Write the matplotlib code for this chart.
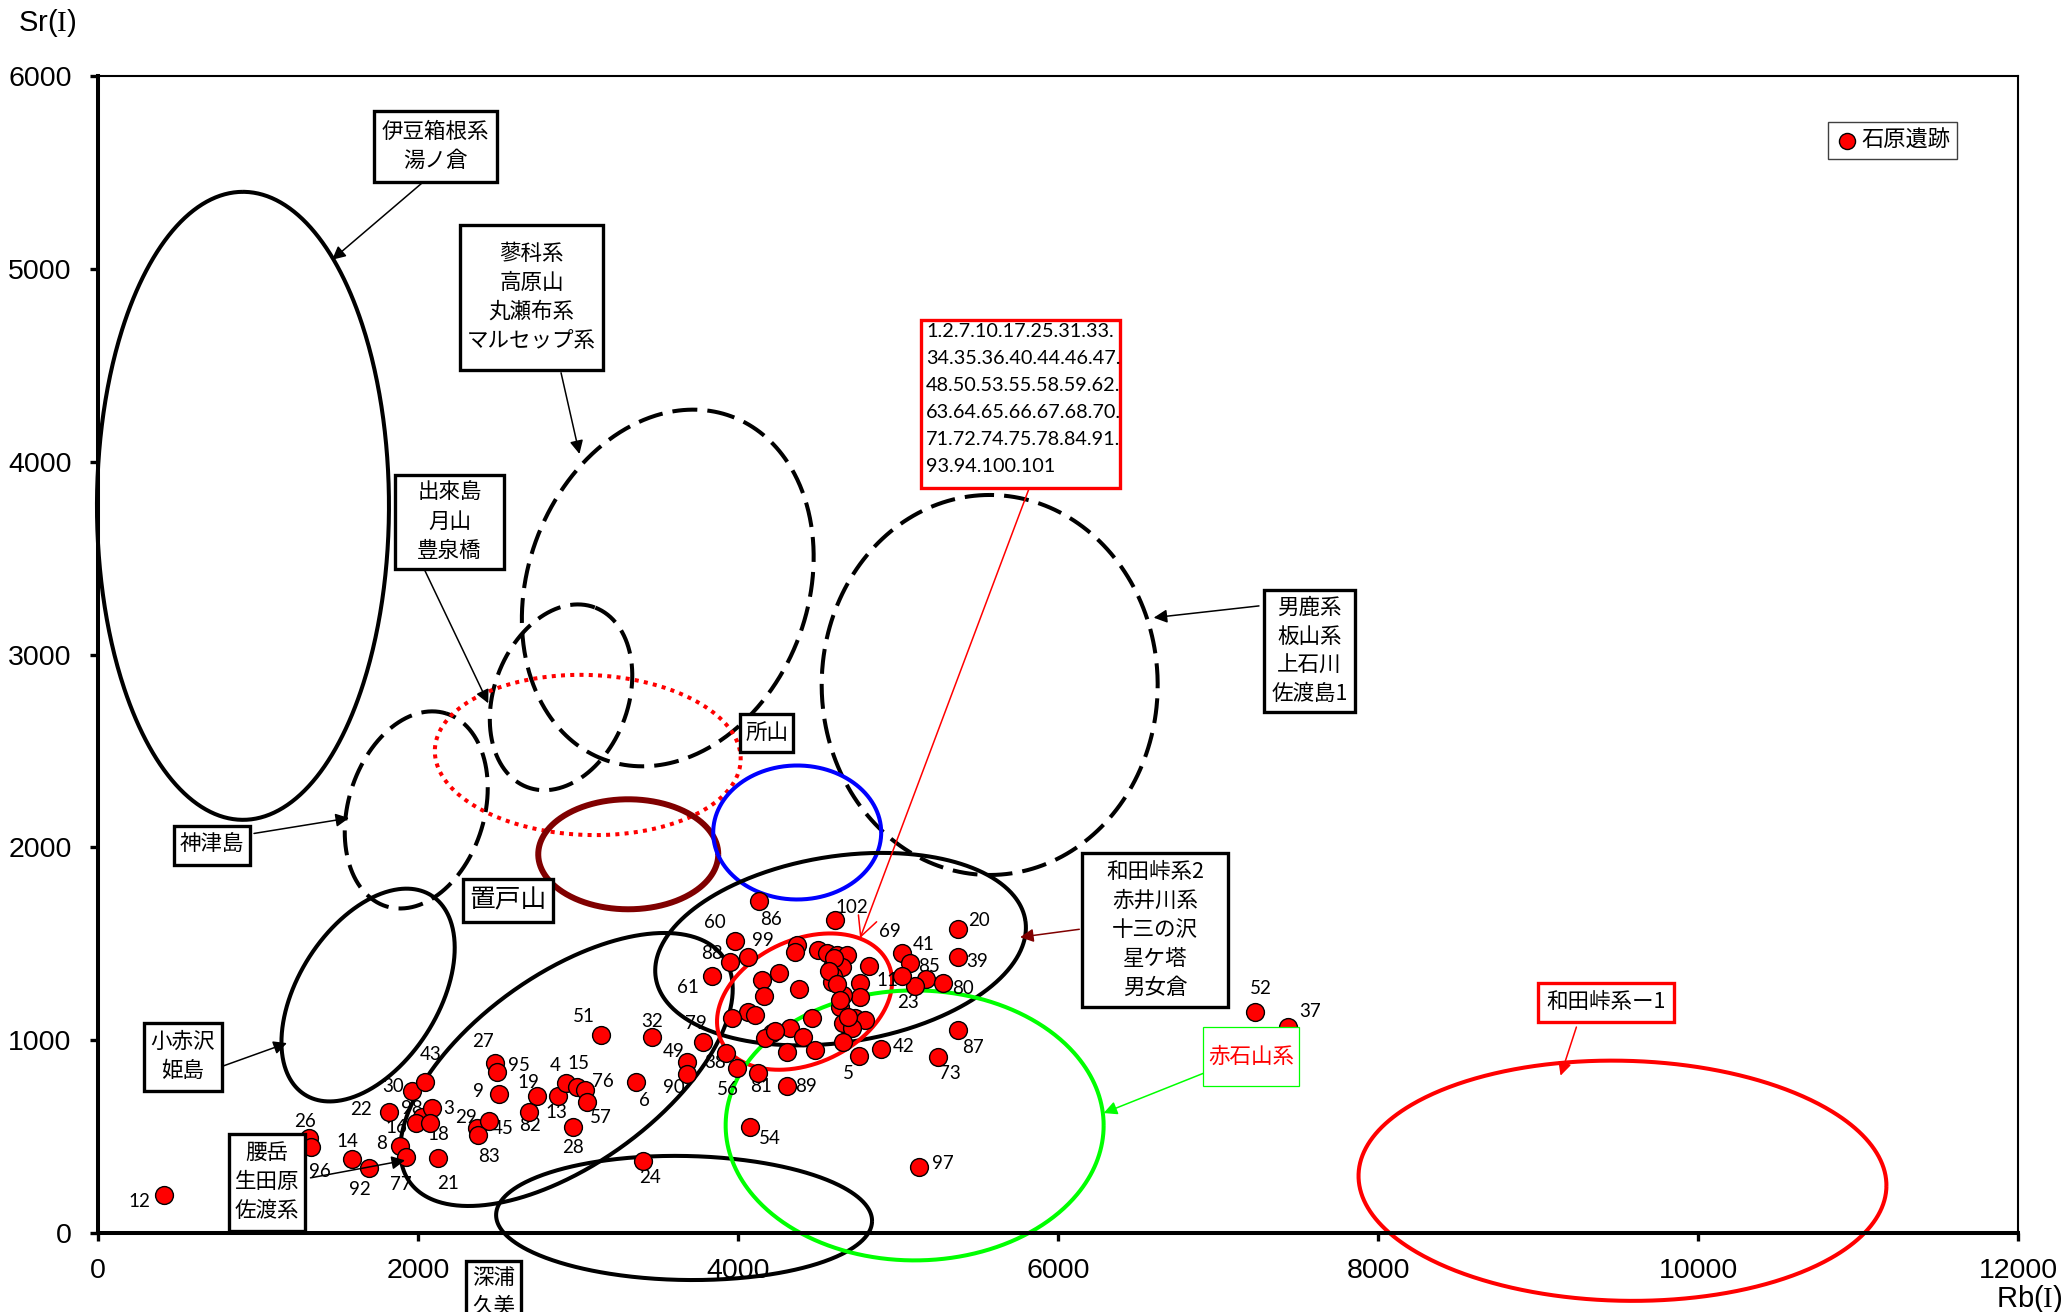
import numpy as np
import matplotlib
matplotlib.use('Agg')
import matplotlib.pyplot as plt
from matplotlib.patches import Rectangle

plt.rcParams['font.family'] = ['Liberation Sans', 'Noto Sans CJK JP']
plt.rcParams['mathtext.fontset'] = 'custom'
plt.rcParams['mathtext.rm'] = 'Liberation Serif'

# ---- values (Rb(I) vs Sr(I)) ----
sample_no = [12, 26, 96, 14, 92, 8, 77, 22, 30, 43,
             98, 16, 3, 18, 21, 27, 95, 9, 29, 45,
             83, 19, 82, 13, 4, 15, 76, 57, 28, 51,
             6, 32, 24, 49, 90, 79, 38, 56, 81, 89,
             54, 61, 88, 60, 99, 86, 102, 69, 41, 85,
             11, 23, 80, 20, 39, 87, 73, 42, 5, 97,
             52, 37]
rb_labeled = [412, 1316, 1334, 1588, 1695, 1887, 1925, 1821, 1965, 2044,
              2023, 1987, 2090, 2075, 2127, 2481, 2492, 2506, 2367, 2444,
              2373, 2742, 2694, 2873, 2925, 2992, 3044, 3054, 2971, 3144,
              3362, 3460, 3408, 3679, 3679, 3783, 3923, 3992, 4127, 4308,
              4075, 3840, 3950, 3981, 4065, 4133, 4606, 4819, 5023, 5173,
              4763, 5106, 5283, 5373, 5373, 5377, 5252, 4892, 4756, 5133,
              7231, 7436]
sr_labeled = [199, 495, 446, 382, 338, 453, 392, 629, 738, 785,
              600, 569, 647, 569, 387, 880, 833, 721, 543, 583,
              508, 711, 626, 711, 776, 759, 742, 678, 548, 1027,
              781, 1015, 373, 889, 825, 992, 935, 854, 832, 762,
              552, 1335, 1407, 1515, 1433, 1724, 1623, 1387, 1454, 1316,
              1295, 1281, 1295, 1575, 1430, 1053, 915, 953, 920, 343,
              1148, 1067]

# samples inside the dense cluster that only appear in the listing box
rb_unlabeled = [4367, 4356, 4502, 4554, 4617, 4679, 4585, 4648, 4592, 4585,
                4762, 4658, 4637, 4258, 4148, 4162, 4383, 4065, 4106, 3960,
                4460, 4731, 4794, 4658, 4710, 4325, 4210, 4169, 4408, 4304,
                4481, 4658, 5075, 5023, 4600, 4570, 4620, 4640, 4690, 4230]
sr_unlabeled = [1494, 1459, 1468, 1454, 1442, 1442, 1381, 1378, 1333, 1304,
                1226, 1234, 1174, 1347, 1312, 1229, 1264, 1148, 1131, 1113,
                1113, 1113, 1105, 1087, 1061, 1061, 1035, 1010, 1018, 940,
                949, 992, 1402, 1333, 1425, 1360, 1290, 1210, 1120, 1048]

listed_samples = ('1.2.7.10.17.25.31.33.\n34.35.36.40.44.46.47.\n48.50.53.55.58.59.62.\n'
                  '63.64.65.66.67.68.70.\n71.72.74.75.78.84.91.\n93.94.100.101')

x_ticks = [0, 2000, 4000, 6000, 8000, 10000, 12000]
y_ticks = [0, 1000, 2000, 3000, 4000, 5000, 6000]

# label offsets (pixels) for the sample numbers
label_offset = {
    12: (-25, -7), 26: (-4, 16), 96: (8, -24), 14: (-5, 18), 92: (-9, -22),
    8: (-18, 2), 77: (-5, -27), 22: (-28, 2), 30: (-19, 4), 43: (6, 27),
    98: (-10, 9), 16: (-20, -4), 3: (16, 0), 18: (8, -11), 21: (10, -25),
    27: (-12, 22), 95: (22, 7), 9: (-21, 2), 29: (-11, 11), 45: (14, -8),
    83: (11, -21), 19: (-8, 13), 82: (1, -13), 13: (-1, -17), 4: (-11, 18),
    15: (2, 23), 76: (18, 8), 57: (14, -15), 28: (0, -20), 51: (-17, 18),
    6: (9, -18), 32: (0, 16), 24: (7, -16), 49: (-13, 10), 90: (-13, -14),
    79: (-7, 18), 38: (-11, -10), 56: (-9, -21), 81: (3, -14), 89: (19, 0),
    54: (20, -12), 61: (-24, -12), 88: (-18, 8), 60: (-20, 18), 99: (14, 16),
    86: (12, -19), 102: (17, 13), 69: (21, 34), 41: (22, 8), 85: (3, 13),
    11: (27, 3), 23: (-7, -17), 80: (20, -5), 20: (21, 9), 39: (19, -4),
    87: (15, -18), 73: (12, -17), 42: (23, 3), 5: (-11, -18), 97: (24, 3),
    52: (6, 23), 37: (22, 16),
}

# source-area ellipses: centre (data), semi axes (pixels), tilt (deg), colour, width, style
ellipses = [
    (906, 3771, 314, 146, 90, 'black', 2.9, '-'),        # 伊豆箱根系
    (3561, 3345, 183, 140, 69.6, 'black', 2.9, 'dash'),  # 蓼科系
    (2894, 2778, 96, 67, 69.4, 'black', 2.9, 'dash'),    # 出來島
    (5573, 2842, 190, 168, 90, 'black', 2.9, 'dash'),    # 男鹿系
    (1989, 2194, 101, 68, 72.8, 'black', 2.9, 'dash'),   # 神津島
    (3061, 2479, 153, 80, -2, '#FF0000', 2.9, 'dot'),    # 高原山 etc.
    (3314, 1964, 90, 55, 0, '#800000', 4.3, '-'),        # 置戸山
    (4370, 2077, 84, 67, 0, '#0000FF', 2.9, '-'),        # 所山
    (1688, 1234, 118, 70, 57.5, 'black', 2.9, '-'),      # 小赤沢
    (2928, 848, 193, 95, 35.7, 'black', 2.9, '-'),       # 腰岳
    (3663, 78, 188, 62, -1, 'black', 2.9, '-'),          # 深浦
    (4641, 1472, 187, 93, 8.8, 'black', 2.9, '-'),       # 和田峠系2
    (4416, 1200, 92, 62, 24.6, '#FF0000', 2.9, '-'),     # listed samples
    (5104, 558, 189, 135, 0, '#00FF00', 2.9, '-'),       # 赤石山系
    (9528, 271, 264, 120, -1.3, '#FF0000', 2.9, '-'),    # 和田峠系-1
]

# label boxes: text, x0, y0, x1, y1 (data), font size, text colour, edge colour, edge width
boxes = [
    ('伊豆箱根系\n湯ノ倉', 1725, 5451, 2494, 5819, 15.5, 'black', 'black', 2.4),
    ('蓼科系\n高原山\n丸瀬布系\nマルセップ系', 2263, 4476, 3156, 5228, 15.5, 'black', 'black', 2.4),
    ('出來島\n月山\n豊泉橋', 1856, 3444, 2538, 3932, 15.5, 'black', 'black', 2.4),
    ('神津島', 475, 1909, 950, 2111, 15.5, 'black', 'black', 2.4),
    ('所山', 4013, 2495, 4344, 2692, 15.5, 'black', 'black', 2.4),
    ('置戸山', 2279, 1615, 2842, 1836, 18.5, 'black', 'black', 2.4),
    ('小赤沢\n姫島', 285, 739, 775, 1090, 15.5, 'black', 'black', 2.4),
    ('腰岳\n生田原\n佐渡系', 821, 11, 1294, 516, 15.5, 'black', 'black', 2.4),
    ('男鹿系\n板山系\n上石川\n佐渡島1', 7288, 2700, 7856, 3335, 15.5, 'black', 'black', 2.4),
    ('和田峠系2\n赤井川系\n十三の沢\n星ケ塔\n男女倉', 6148, 1174, 7064, 1969, 15.5, 'black', 'black', 2.4),
    ('和田峠系ー1', 8999, 1094, 9849, 1298, 15.5, 'black', '#FF0000', 2.4),
    ('赤石山系', 6904, 760, 7508, 1067, 15.5, '#FF0000', '#00FF00', 0.9),
]

# arrows: tail, head, colour
arrows = [
    ((2063, 5472), (1463, 5047), 'black'),
    ((2894, 4461), (3009, 4040), 'black'),
    ((2038, 3444), (2439, 2747), 'black'),
    ((975, 2072), (1569, 2152), 'black'),
    ((775, 864), (1181, 985), 'black'),
    ((1328, 286), (1919, 377), 'black'),
    ((7256, 3252), (6598, 3191), 'black'),
    ((6133, 1575), (5763, 1534), '#800000'),
    ((6908, 828), (6285, 622), '#00FF00'),
    ((9240, 1068), (9141, 816), '#FF0000'),
]

fig = plt.figure(figsize=(20.65, 13.12), dpi=100)
fig.patch.set_facecolor('white')
ax = fig.add_axes([0.04746, 0.06021, 0.92978, 0.88186])
ax.set_xlim(0, 12000)
ax.set_ylim(0, 6000)

# pixels per data unit, used to draw ellipses that are round in pixel space
fig_w, fig_h = fig.get_size_inches() * fig.dpi
px_x = 0.92978 * fig_w / 12000
px_y = 0.88186 * fig_h / 6000


def ellipse_xy(cx, cy, a, b, ang):
    t = np.linspace(0, 2 * np.pi, 600)
    th = np.deg2rad(ang)
    dx = a * np.cos(th) * np.cos(t) - b * np.sin(th) * np.sin(t)
    dy = a * np.sin(th) * np.cos(t) + b * np.cos(th) * np.sin(t)
    return cx + dx / px_x, cy + dy / px_y


for cx, cy, a, b, ang, col, lw, style in ellipses:
    xs, ys = ellipse_xy(cx, cy, a, b, ang)
    if style == 'dash':
        ls = (0, (6.2, 2.5))
    elif style == 'dot':
        ls = (0, (1.0, 1.3))
    else:
        ls = '-'
    ax.plot(xs, ys, color=col, lw=lw, linestyle=ls, solid_capstyle='butt',
            dash_capstyle='butt', clip_on=False, zorder=2)

for tail, head, col in arrows:
    ax.annotate('', xy=head, xytext=tail, annotation_clip=False, zorder=4,
                arrowprops=dict(arrowstyle='-|>', color=col, lw=1.1,
                                mutation_scale=20, shrinkA=0, shrinkB=0))
# open arrow from the listing box
ax.annotate('', xy=(4763, 1529), xytext=(5816, 3854), annotation_clip=False, zorder=4,
            arrowprops=dict(arrowstyle='->,head_length=0.7,head_width=0.35', color='#FF0000',
                            lw=1.1, mutation_scale=20, shrinkA=0, shrinkB=0))

for text, x0, y0, x1, y1, fs, tc, ec, lw in boxes:
    ax.add_patch(Rectangle((x0, y0), x1 - x0, y1 - y0, facecolor='white', edgecolor=ec,
                           lw=lw, clip_on=False, zorder=5))
    ax.text((x0 + x1) / 2, (y0 + y1) / 2, text, ha='center', va='center', fontsize=fs,
            color=tc, linespacing=1.4, family=['Noto Sans CJK JP'], zorder=6, clip_on=False)

# 深浦 box runs off the bottom of the picture, as in the original
ax.add_patch(Rectangle((2300, -555), 346, 410, facecolor='white', edgecolor='black',
                       lw=2.4, clip_on=False, zorder=5))
ax.text(2473, -176, '深浦\n久美', ha='center', va='top', fontsize=15.5, linespacing=1.4,
        family=['Noto Sans CJK JP'], zorder=6, clip_on=False)

# listing box
ax.add_patch(Rectangle((5142, 3863), 1246, 872, facecolor='white', edgecolor='#FF0000',
                       lw=2.4, clip_on=False, zorder=5))
ax.text(5175, 4326, listed_samples, ha='left', va='center', fontsize=14.3,
        linespacing=1.72, family=['Lato'], zorder=6)

# sample numbers (under the markers)
for n, x, y in zip(sample_no, rb_labeled, sr_labeled):
    ax.annotate(str(n), (x, y), xytext=label_offset[n], textcoords='offset pixels',
                ha='center', va='center', fontsize=13.5, family=['Lato'], zorder=2.5)

pts = ax.scatter(rb_labeled + rb_unlabeled, sr_labeled + sr_unlabeled, s=165,
                 c='#FF0000', edgecolors='black', linewidths=1.0, zorder=3,
                 clip_on=False, label='石原遺跡')

leg = ax.legend(handles=[pts], loc='upper right', bbox_to_anchor=(1956.7 / 2065, 1 - 122.3 / 1312),
                bbox_transform=fig.transFigure, prop={'family': ['Noto Sans CJK JP'], 'size': 16},
                fancybox=False, framealpha=1, edgecolor='#404040', borderpad=0.3,
                handletextpad=0.1, handlelength=1.1, borderaxespad=0, markerscale=0.9)
leg.get_frame().set_linewidth(1.0)

ax.set_xticks(x_ticks)
ax.set_yticks(y_ticks)
ax.tick_params(direction='out', length=6, width=2.4, labelsize=20.5)
ax.tick_params(axis='y', pad=13)
ax.tick_params(axis='x', pad=12)
for side in ['left', 'bottom']:
    ax.spines[side].set_linewidth(2.9)
for side in ['top', 'right']:
    ax.spines[side].set_linewidth(1.5)

fig.text(18 / 2065, 1 - 23 / 1312, r'Sr($\mathrm{I}$)', fontsize=21, ha='left', va='center')
fig.text(2063 / 2065, 1 - 1299 / 1312, r'Rb($\mathrm{I}$)', fontsize=21, ha='right', va='center')

fig.savefig('out.png', dpi=100)
